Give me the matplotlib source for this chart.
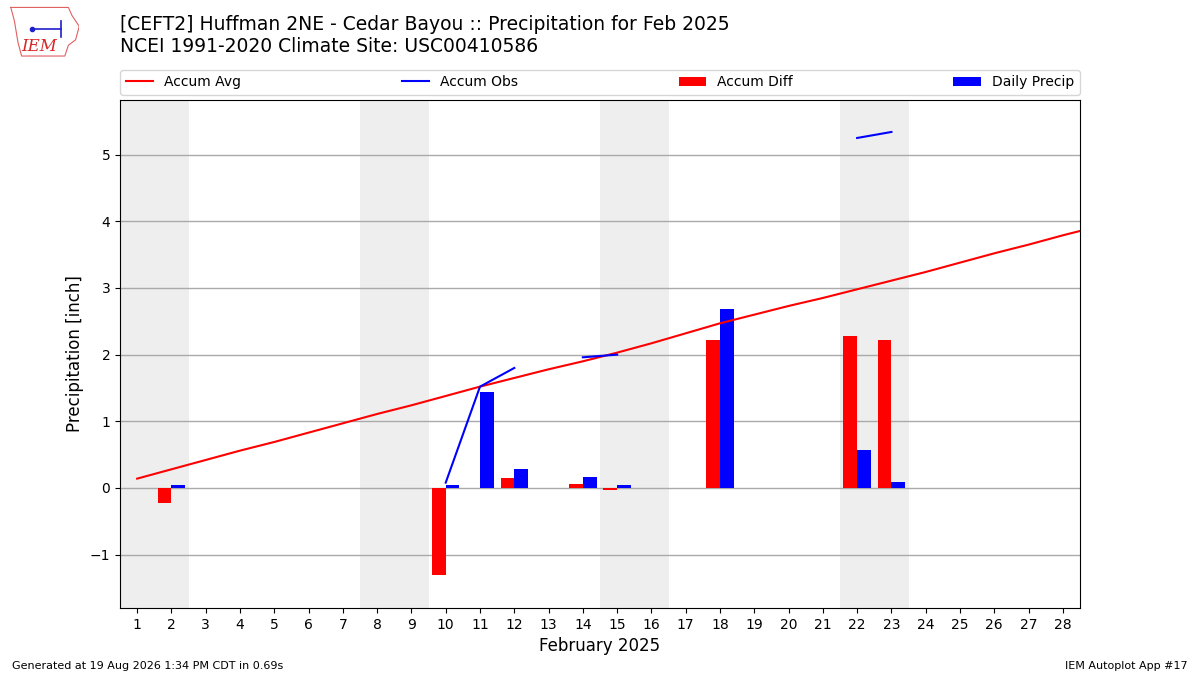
import numpy as np
import matplotlib

matplotlib.use("Agg")
import matplotlib.pyplot as plt

# --- data ------------------------------------------------------------------
days = list(range(1, 30))  # climatology includes Feb 29, only 1-28 shown
accum_avg = [0.14, 0.28, 0.42, 0.56, 0.69, 0.83, 0.97, 1.11, 1.24, 1.38,
             1.52, 1.65, 1.78, 1.90, 2.03, 2.17, 2.32, 2.47, 2.60, 2.73,
             2.85, 2.98, 3.11, 3.24, 3.38, 3.52, 3.65, 3.79, 3.92]

obs_days = list(range(1, 29))
accum_obs = [np.nan, 0.05, np.nan, np.nan, np.nan, np.nan, np.nan, np.nan, np.nan, 0.08,
             1.52, 1.80, np.nan, 1.96, 2.00, np.nan, np.nan, 4.68, np.nan, np.nan,
             np.nan, 5.25, 5.34, np.nan, np.nan, np.nan, np.nan, np.nan]
accum_diff = [np.nan, -0.23, np.nan, np.nan, np.nan, np.nan, np.nan, np.nan, np.nan, -1.30,
              0.00, 0.15, np.nan, 0.06, -0.03, np.nan, np.nan, 2.22, np.nan, np.nan,
              np.nan, 2.28, 2.22, np.nan, np.nan, np.nan, np.nan, np.nan]
daily_precip = [np.nan, 0.05, np.nan, np.nan, np.nan, np.nan, np.nan, np.nan, np.nan, 0.04,
                1.44, 0.28, np.nan, 0.16, 0.04, np.nan, np.nan, 2.68, np.nan, np.nan,
                np.nan, 0.57, 0.09, np.nan, np.nan, np.nan, np.nan, np.nan]

weekend_days = [1, 2, 8, 9, 15, 16, 22, 23]

title = ("[CEFT2] Huffman 2NE - Cedar Bayou :: Precipitation for Feb 2025\n"
         "NCEI 1991-2020 Climate Site: USC00410586")

# --- figure ------------------------------------------------------------------
fig = plt.figure(figsize=(12, 6.75), dpi=100)
ax = fig.add_axes([0.1, 0.0993, 0.8, 0.7526])

for d in weekend_days:
    ax.axvspan(d - 0.5, d + 0.5, color="#eeeeee", lw=0, zorder=0)

ax.grid(axis="y", color="#aaaaaa", lw=1, zorder=1)
ax.set_axisbelow(True)

(l_avg,) = ax.plot(days, accum_avg, color="r", lw=1.5, zorder=3, label="Accum Avg")
(l_obs,) = ax.plot(obs_days, accum_obs, color="b", lw=1.5, zorder=3, label="Accum Obs")
b_diff = ax.bar(np.array(obs_days) - 0.4, accum_diff, width=0.4, align="edge",
                color="r", zorder=2, label="Accum Diff")
b_pre = ax.bar(obs_days, daily_precip, width=0.4, align="edge",
               color="b", zorder=2, label="Daily Precip")

ax.set_xlim(0.5, 28.5)
ax.set_ylim(-1.8, 5.82)
ax.set_xticks(range(1, 29))
ax.set_yticks(range(-1, 6))
ax.tick_params(labelsize=10)
ax.set_xlabel("February 2025", fontsize=12)
ax.set_ylabel("Precipitation [inch]", fontsize=12)

ax.legend(handles=[l_avg, l_obs, b_diff, b_pre], ncol=4, mode="expand",
          loc="lower left", bbox_to_anchor=(0.0, 1.01, 1.0, 0.05),
          borderaxespad=0, fontsize=10)

fig.text(0.1, 0.947, title, fontsize=13.5, ha="left", va="center", linespacing=1.2)

# small IEM badge in the corner
logo = fig.add_axes([0.006, 0.913, 0.060, 0.08])
logo.set_xlim(0, 1)
logo.set_ylim(0, 1)
logo.axis("off")
logo.plot([0.05, 0.85, 0.9, 1.0, 0.95, 0.85, 0.8, 0.2, 0.15, 0.1, 0.05],
          [0.95, 0.95, 0.8, 0.6, 0.35, 0.25, 0.05, 0.05, 0.3, 0.7, 0.95],
          color="#e06060", lw=0.8)
logo.plot([0.35, 0.75], [0.55, 0.55], color="#1f1fcc", lw=1.2)
logo.plot([0.35], [0.55], "o", color="#1f1fcc", ms=3)
logo.plot([0.75, 0.75], [0.4, 0.7], color="#1f1fcc", lw=1.2)
logo.text(0.45, 0.22, "IEM", color="#d62728", fontsize=12, family="DejaVu Serif",
          style="italic", ha="center", va="center")

fig.text(0.01, 0.014, "Generated at 19 Aug 2026 1:34 PM CDT in 0.69s",
         fontsize=8, ha="left", va="center")
fig.text(0.99, 0.014, "IEM Autoplot App #17", fontsize=8, ha="right", va="center")

fig.savefig("out.png", dpi=100)
